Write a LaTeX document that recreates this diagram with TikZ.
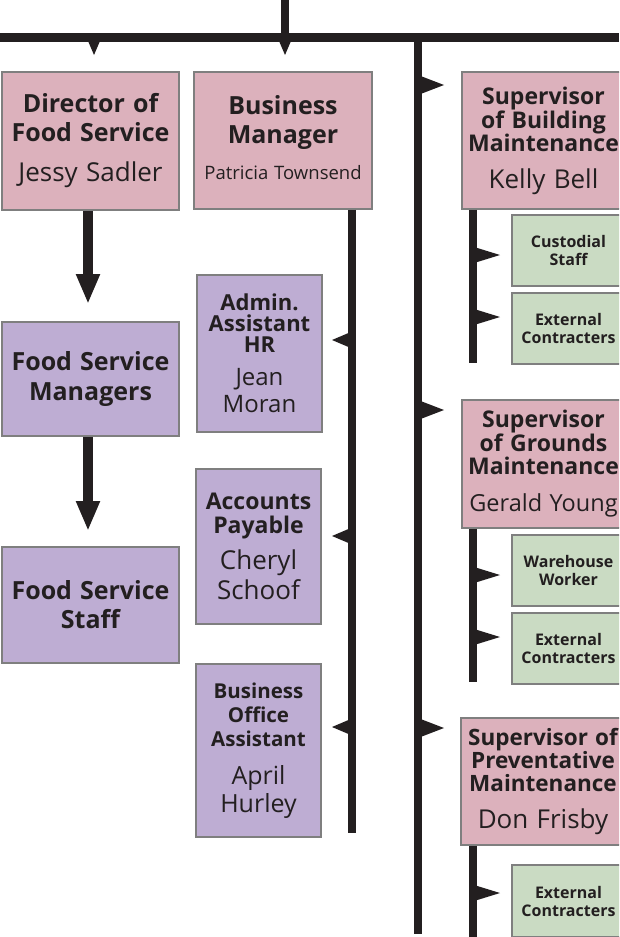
\documentclass[tikz,border=0pt]{standalone}
\usepackage{fontspec}
\setmainfont{Open Sans}
\usetikzlibrary{arrows.meta,calc}
\definecolor{ink}{HTML}{231F20}
\definecolor{pinkbox}{HTML}{DCB1BC}
\definecolor{purplebox}{HTML}{BEADD3}
\definecolor{greenbox}{HTML}{CADBC3}
\definecolor{edgegray}{HTML}{7F7F7F}
\lineskiplimit=-50pt
\newcommand{\ttl}[3]{{\bfseries\fontsize{#1}{#2}\selectfont\spaceskip=0.32em\relax #3\par}}
\newcommand{\nm}[3]{{\fontsize{#1}{#2}\selectfont\spaceskip=0.32em\relax #3\par}}
\tikzset{
  x=1pt, y=-1pt,
  box/.style={draw=edgegray, line width=1.8pt, inner xsep=0pt, inner ysep=0pt, align=center, text=ink},
  pinkb/.style={box, fill=pinkbox},
  purpleb/.style={box, fill=purplebox},
  greenb/.style={box, fill=greenbox, text width=113pt, minimum height=71pt},
  wire/.style={draw=ink, line width=8.5pt},
  pics/flagr/.style args={#1/#2}{code={\fill[ink] (0,-#1) -- (#2,0) -- (0,#1) -- cycle;}},
  pics/flagd/.style={code={\fill[ink] (-6,0) -- (6,0) -- (0,14) -- cycle;}}
}
\begin{document}
\begin{tikzpicture}
\useasboundingbox (0,0) rectangle (619,937);
\clip (0,0) rectangle (619,937);

% ---------- boxes ----------
\node[pinkb, text width=177pt, minimum height=138pt] (dfs) at (90.5,141)
  {\ttl{25}{29}{Director of\\Food Service}\nm{26}{40}{\mbox{Jessy Sadler}}};
\node[pinkb, text width=178pt, minimum height=137pt] (bm) at (283,140.5)
  {\ttl{25}{29}{Business\\Manager}\nm{18.5}{36}{\mbox{Patricia Townsend}}\vspace{6pt}};
\node[pinkb, text width=163pt, minimum height=137pt] (sbm) at (543.5,140.5)
  {\ttl{23}{23}{Supervisor\\of Building\\Maintenance}\nm{26}{37}{\mbox{Kelly Bell}}};

\node[purpleb, text width=177pt, minimum height=114pt] (fsm) at (90.5,379)
  {\ttl{25}{29}{Food Service\\Managers}};
\node[purpleb, text width=177pt, minimum height=116pt] (fss) at (90.5,605)
  {\ttl{25}{29}{Food Service\\Staff}};

\node[purpleb, text width=125pt, minimum height=157pt] (adm) at (259.5,353.5)
  {\ttl{22}{21}{Admin.\\Assistant\\HR}\vspace{6pt}\nm{24}{27}{Jean\\Moran}};
\node[purpleb, text width=125pt, minimum height=155pt] (acp) at (258.5,546.5)
  {\ttl{23}{24}{Accounts\\Payable}\vspace{6pt}\nm{26}{30}{Cheryl\\Schoof}};
\node[purpleb, text width=125pt, minimum height=173pt] (boa) at (258.5,750.5)
  {\ttl{20.5}{24}{Business\\Office\\Assistant}\vspace{10pt}\nm{25}{28}{April\\Hurley}};

\node[greenb] (cus) at (568.5,250.5) {\ttl{16}{18}{Custodial\\Staff}};
\node[greenb] (ex1) at (568.5,328.5) {\ttl{16}{18}{External\\Contracters}};

\node[pinkb, text width=163pt, minimum height=128pt] (sgm) at (543.5,464)
  {\ttl{23}{23}{Supervisor\\of Grounds\\Maintenance}\nm{23.5}{37}{\mbox{Gerald Young}}};
\node[greenb] (ww) at (568.5,570.5) {\ttl{16}{18}{Warehouse\\Worker}};
\node[greenb] (ex2) at (568.5,648.5) {\ttl{16}{18}{External\\Contracters}};

\node[pinkb, text width=164pt, minimum height=127pt] (spm) at (543,781.5)
  {\ttl{22.5}{23}{\mbox{Supervisor of}\\Preventative\\Maintenance}\nm{26}{37}{\mbox{Don Frisby}}};
\node[greenb, minimum height=72pt] (ex3) at (568.5,901) {\ttl{16}{18}{External\\Contracters}};

% ---------- connectors ----------
\coordinate (top) at (285,0);
\coordinate (barJ) at (285,37.5);
\coordinate (barL) at (0,37.5);
\coordinate (barR) at (619,37.5);
\draw[wire] (top) -- (barJ);
\draw[wire] (barL) -- (barR);
\coordinate (fA) at (94,41);
\coordinate (fB) at (285,41);
\pic at (fA) {flagd};
\pic at (fB) {flagd};

% food service chain
\coordinate (colA) at (88,0);
\draw[wire, line width=10pt, -{Triangle[width=22pt,length=30pt]}, shorten >=17pt]
  (dfs.south -| colA) -- (fsm.north -| colA);
\draw[wire, line width=10pt, -{Triangle[width=22pt,length=30pt]}, shorten >=15pt]
  (fsm.south -| colA) -- (fss.north -| colA);

% business manager line
\coordinate (midB) at (352,833);
\draw[wire] (bm.south -| midB) -- (midB);
\coordinate (fAdm) at (352,340);
\coordinate (fAcp) at (352,536);
\coordinate (fBoa) at (352,727);
\pic at (fAdm) {flagr=8.5/-20};
\pic at (fAcp) {flagr=8.5/-20};
\pic at (fBoa) {flagr=8.5/-20};

% maintenance main line
\coordinate (mainT) at (418,37.5);
\coordinate (mainB) at (418,934);
\draw[wire, line width=8pt] (mainT) -- (mainB);
\coordinate (fSbm) at (418,85);
\coordinate (fSgm) at (418,410);
\coordinate (fSpm) at (418,728);
\pic at (fSbm) {flagr=10/26};
\pic at (fSgm) {flagr=10/26};
\pic at (fSpm) {flagr=10/26};

% sub lines
\coordinate (subX) at (472.5,0);
\coordinate (sub1) at (472.5,363);
\coordinate (sub2) at (472.5,682);
\coordinate (sub3) at (472.5,940);
\draw[wire, line width=8pt] (sbm.south -| subX) -- (sub1);
\draw[wire, line width=8pt] (sgm.south -| subX) -- (sub2);
\draw[wire, line width=8pt] (spm.south -| subX) -- (sub3);
\coordinate (fCus) at (472.5,255);
\coordinate (fEx1) at (472.5,317);
\coordinate (fWw) at (472.5,575);
\coordinate (fEx2) at (472.5,637);
\coordinate (fEx3) at (472.5,893);
\pic at (fCus) {flagr=8.5/27.5};
\pic at (fEx1) {flagr=8.5/27.5};
\pic at (fWw) {flagr=8.5/27.5};
\pic at (fEx2) {flagr=8.5/27.5};
\pic at (fEx3) {flagr=8.5/27.5};
\end{tikzpicture}
\end{document}
